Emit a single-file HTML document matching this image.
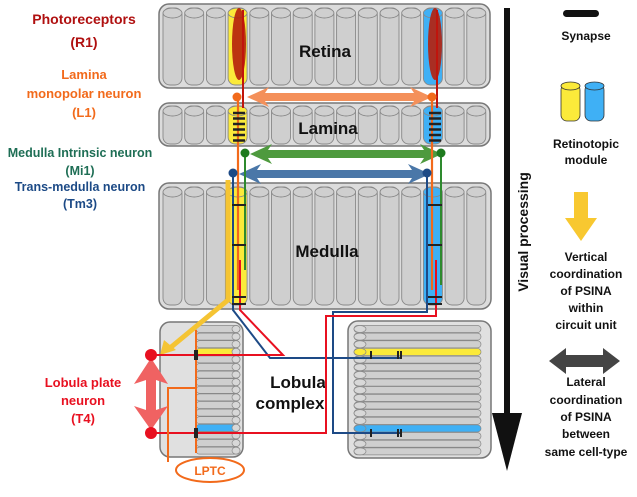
<!DOCTYPE html>
<html><head><meta charset="utf-8"><style>
html,body{margin:0;padding:0;background:#fff;width:637px;height:497px;overflow:hidden}
svg{display:block}
text{font-family:"Liberation Sans",sans-serif;font-weight:bold}
</style></head><body>
<svg id="s" width="637" height="497" viewBox="0 0 637 497" xmlns="http://www.w3.org/2000/svg">
<rect x="159" y="4" width="331" height="84" rx="10" fill="#dcdcdc" stroke="#777" stroke-width="1.5"/>
<rect x="159" y="103" width="331" height="43" rx="10" fill="#dcdcdc" stroke="#777" stroke-width="1.5"/>
<rect x="159" y="183" width="332" height="126" rx="10" fill="#dcdcdc" stroke="#777" stroke-width="1.5"/>
<rect x="160" y="322" width="83" height="135" rx="10" fill="#e0e0e0" stroke="#777" stroke-width="1.5"/>
<rect x="348" y="321" width="143" height="137" rx="10" fill="#e0e0e0" stroke="#777" stroke-width="1.5"/>
<g id="cols"></g>
<text x="325" y="57" font-size="17" text-anchor="middle" fill="#111">Retina</text>
<text x="328" y="134" font-size="17" text-anchor="middle" fill="#111">Lamina</text>
<text x="327" y="257" font-size="17" text-anchor="middle" fill="#111">Medulla</text>
<text x="298" y="388" font-size="17" text-anchor="middle" fill="#111">Lobula</text>
<text x="290" y="409" font-size="17" text-anchor="middle" fill="#111">complex</text>
<g id="over"></g>
<text font-size="14" text-anchor="middle" fill="#b01010"><tspan x="84" y="24">Photoreceptors</tspan><tspan x="84" y="47">(R1)</tspan></text>
<text font-size="13" text-anchor="middle" fill="#f26a1b"><tspan x="84" y="79">Lamina</tspan><tspan x="84" y="98">monopolar neuron</tspan><tspan x="84" y="117">(L1)</tspan></text>
<text font-size="12.5" text-anchor="middle" fill="#1e6e55"><tspan x="80" y="157">Medulla Intrinsic neuron</tspan><tspan x="80" y="175">(Mi1)</tspan></text>
<text font-size="12.5" text-anchor="middle" fill="#1c4a86"><tspan x="80" y="191">Trans-medulla neuron</tspan><tspan x="80" y="208">(Tm3)</tspan></text>
<text font-size="13" text-anchor="middle" fill="#e81020"><tspan x="83" y="387">Lobula plate</tspan><tspan x="83" y="405">neuron</tspan><tspan x="83" y="423">(T4)</tspan></text>
<line x1="507" y1="8" x2="507" y2="415" stroke="#111" stroke-width="6"/>
<path d="M492,413 L522,413 L507,471 z" fill="#111"/>
<text transform="translate(528,232) rotate(-90)" font-size="14" text-anchor="middle" fill="#111">Visual processing</text>
<rect x="563" y="10" width="36" height="7" rx="3.5" fill="#111"/>
<g font-size="12" text-anchor="middle" fill="#111">
<text x="586" y="40">Synapse</text>
<text x="586" y="148">Retinotopic</text><text x="586" y="164">module</text>
<text x="586" y="261">Vertical</text><text x="586" y="278">coordination</text><text x="586" y="295">of PSINA</text><text x="586" y="312">within</text><text x="586" y="329">circuit unit</text>
<text x="586" y="386">Lateral</text><text x="586" y="404">coordination</text><text x="586" y="421">of PSINA</text><text x="586" y="438">between</text><text x="586" y="456">same cell-type</text>
</g>
<g stroke="#333" stroke-width="0.8">
<rect x="561" y="84" width="19" height="37" rx="6" fill="#fbea3a"/><ellipse cx="570.5" cy="86" rx="9.5" ry="4" fill="#fbea3a"/>
<rect x="585" y="84" width="19" height="37" rx="6" fill="#3fb0f5"/><ellipse cx="594.5" cy="86" rx="9.5" ry="4" fill="#3fb0f5"/>
</g>
<path d="M574,192 L588,192 L588,218 L597,218 L581,241 L565,218 L574,218 z" fill="#f8c830"/>
<path d="M549,361 L566,348 L566,355 L603,355 L603,348 L620,361 L603,374 L603,367 L566,367 L566,374 z" fill="#444"/>
</svg>
<script>
const NS="http://www.w3.org/2000/svg";
function el(p,t,a){const e=document.createElementNS(NS,t);for(const k in a)e.setAttribute(k,a[k]);p.appendChild(e);return e;}
const g=document.getElementById('cols');
const xs=[];for(let i=0;i<15;i++)xs.push(163+i*21.7);
function col(x,y,h,fill){el(g,'rect',{x:x,y:y,width:19,height:h,rx:7,fill:fill,stroke:'#888','stroke-width':0.9});el(g,'ellipse',{cx:x+9.5,cy:y+5,rx:9.5,ry:5,fill:fill,stroke:'#888','stroke-width':0.9});}
xs.forEach((x,i)=>{
 let f=i==3?'#fbea3a':(i==12?'#3fb0f5':'#cfcfcf');
 col(x,8,77,f);col(x,106,38,f);col(x,187,118,f);
});
for(let i=0;i<17;i++){const y=329+i*7.6;let f='#cfcfcf';if(i==3)f='#fbea3a';if(i==13)f='#3fb0f5';
 el(g,'rect',{x:196,y:y-3.5,width:44,height:7,rx:3.5,fill:f,stroke:'#888','stroke-width':0.7});
 el(g,'ellipse',{cx:236,cy:y,rx:4,ry:3.5,fill:'#d8d8d8',stroke:'#888','stroke-width':0.7});}
for(let i=0;i<17;i++){const y=329+i*7.65;let f='#cfcfcf';if(i==3)f='#fbea3a';if(i==13)f='#3fb0f5';
 el(g,'rect',{x:354,y:y-3.5,width:127,height:7,rx:3.5,fill:f,stroke:'#888','stroke-width':0.7});
 el(g,'ellipse',{cx:360,cy:y,rx:6,ry:3.5,fill:i==3||i==13?f:'#d8d8d8',stroke:'#888','stroke-width':0.7});}
const o=document.getElementById('over');
function L(pts,c,w){el(o,'polyline',{points:pts,fill:'none',stroke:c,'stroke-width':w||2});}
[239,435].forEach(cx=>{el(o,'ellipse',{cx:cx,cy:44,rx:7,ry:36,fill:'#b5200c',opacity:0.9});});
function dbl(x1,x2,y,c,hw,sw){el(o,'path',{d:`M${x1},${y} L${x1+22},${y-hw} L${x1+18},${y-sw} L${x2-18},${y-sw} L${x2-22},${y-hw} L${x2},${y} L${x2-22},${y+hw} L${x2-18},${y+sw} L${x1+18},${y+sw} L${x1+22},${y+hw} z`,fill:c});}
dbl(247,432,97,'#f4905a',10,4);
dbl(250,442,154,'#4e9a3e',10,4);
dbl(239,430,174,'#4a77a8',10,4);
L('238,97 238,290','#f26a1b',2.2);L('432,97 432,290','#f26a1b',2.2);
[239,435].forEach(cx=>{for(let k=0;k<6;k++)el(o,'line',{x1:cx-6,y1:113+k*5.5,x2:cx+6,y2:113+k*5.5,stroke:'#222','stroke-width':2.5});});
L('245,153 245,270','#2e8a2e',2);L('441,153 441,285','#2e8a2e',2);
L('243,10 243,108','#c0140c',2);L('437,10 437,108','#c0140c',2);
L('228,180 228,300 170,348','#f5c433',5);
el(o,'path',{d:'M160,355 L164,340 L176,350 z',fill:'#f5c433'});
L('233,173 233,310 270,358 400,358','#1d4a86',2);
L('427,173 427,312 333,312 333,433 400,433','#1d4a86',2);
L('151,355 283,355 240,310 240,260','#e81020',2);
L('151,433 326,433 326,316 436,316 436,260','#e81020',2);
[239,435].forEach(cx=>{[205,245,297,304].forEach(y=>el(o,'line',{x1:cx-7,y1:y,x2:cx+7,y2:y,stroke:'#222','stroke-width':2}));});
[[237,97,'#f26a1b'],[432,97,'#f26a1b'],[245,153,'#1e7a1e'],[441,153,'#1e7a1e'],[233,173,'#1d4a86'],[427,173,'#1d4a86']].forEach(d=>el(o,'circle',{cx:d[0],cy:d[1],r:4.5,fill:d[2]}));
L('196,330 196,453','#f26a1b',2);L('168,462 168,388 196,388','#f26a1b',2);
el(o,'ellipse',{cx:210,cy:470,rx:34,ry:12,fill:'#fff',stroke:'#f26a1b','stroke-width':2});
el(o,'text',{x:210,y:475,'font-size':12,'text-anchor':'middle',fill:'#f26a1b'}).textContent='LPTC';
el(o,'path',{d:'M151,358 L168,384 L156,380 L156,410 L168,406 L151,430 L134,406 L146,410 L146,380 L134,384 z',fill:'#f06262'});
el(o,'circle',{cx:151,cy:355,r:6,fill:'#e81020'});el(o,'circle',{cx:151,cy:433,r:6,fill:'#e81020'});
[[196,355],[196,433]].forEach(p=>el(o,'rect',{x:p[0]-2,y:p[1]-5,width:4,height:10,fill:'#222'}));
[[371,355],[371,433],[398,355],[398,433],[401,355],[401,433]].forEach(p=>el(o,'rect',{x:p[0]-1,y:p[1]-4,width:2,height:8,fill:'#222'}));
</script>
</body></html>
